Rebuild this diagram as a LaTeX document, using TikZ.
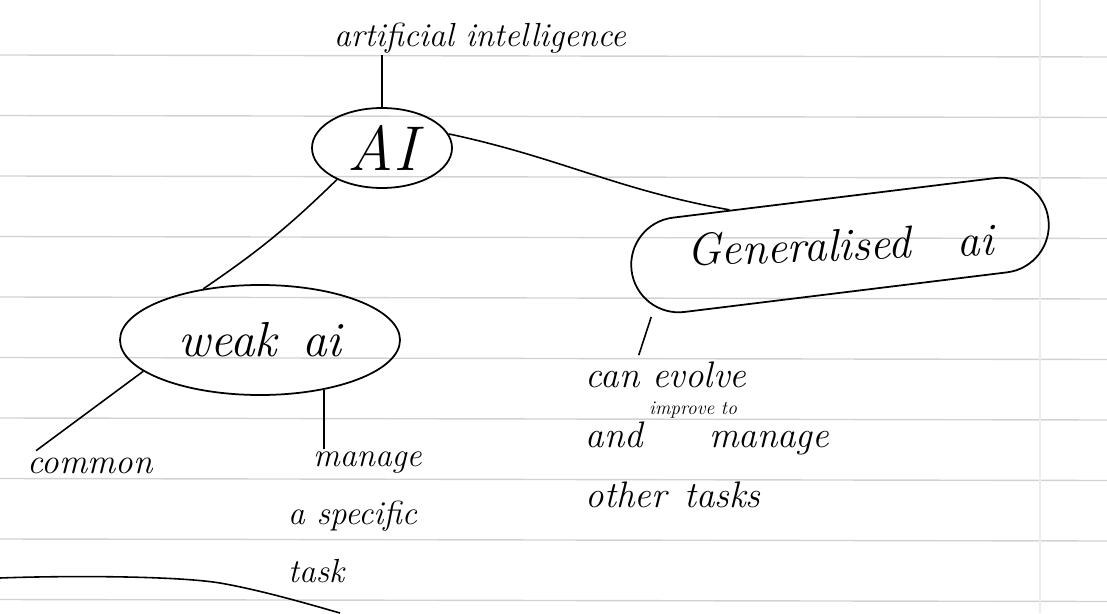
\documentclass[tikz,border=0pt]{standalone}
\usepackage{tikz}
\usetikzlibrary{positioning, arrows.meta, calc, shapes.geometric}

\begin{document}
\begin{tikzpicture}[
        bubble/.style={draw, ellipse, line width=1pt, inner sep=0pt},
        blob/.style={draw, rectangle, rounded corners=0.95cm, line width=1pt, inner sep=0pt},
        note/.style={font=\itshape\fontsize{20}{26}\selectfont, align=left, inner sep=1pt},
        link/.style={line width=0.9pt},
        ruling/.style={gray!35, line width=0.8pt}
    ]
    \useasboundingbox (0,0) rectangle (22.14,12.26);

    % ruled paper
    \foreach \k in {0,...,9} {
        \draw[ruling] (0,11.16-1.21*\k) -- (22.14,11.12-1.21*\k);
    }
    \draw[gray!15, line width=0.8pt] (20.8,12.26) -- (20.8,0);

    % main topic and its meaning
    \node[note, font=\itshape\fontsize{19}{22}\selectfont] (aiterm) at (9.6,11.5) {artificial intelligence};
    \node[bubble, minimum width=2.8cm, minimum height=1.6cm, font=\itshape\fontsize{36}{40}\selectfont] (ai) at (7.64,9.3) {AI};

    % two kinds of ai
    \node[blob, minimum width=8.4cm, minimum height=1.9cm, rotate=7, font=\itshape\fontsize{26}{30}\selectfont] (gen) at (16.8,7.36) {\rotatebox{-5}{Generalised\quad ai}};
    \node[bubble, minimum width=5.6cm, minimum height=2.2cm, font=\itshape\fontsize{28}{32}\selectfont] (weak) at (5.2,5.46) {weak\, ai};

    % notes
    \node[note] (common) at (1.8,2.94) {common};
    \node[note, font=\itshape\fontsize{19}{33}\selectfont] (specific) at (7.1,1.92) {\hspace{0.5cm}manage\\a specific\\task};
    \node[note, font=\itshape\fontsize{21}{34}\selectfont] (evolve) at (14.15,3.56) {can evolve\\and\,\rlap{\raisebox{19pt}{\fontsize{11}{11}\selectfont improve to}}\hspace{1.2cm}manage\\other\hspace{0.35cm}tasks};

    % connectors
    \draw[link] (ai.north) -- (ai.north |- aiterm.south);
    \draw[link] (ai.12) to[out=-12, in=170] ($(gen.north west)!0.25!(gen.north east)$);
    \draw[link] (ai.215) to[bend left=5] (weak.138);
    \draw[link] (weak.195) -- ([xshift=6pt,yshift=3pt]common.north west);
    \draw[link] (weak.-38) -- (weak.-38 |- specific.north);
    \draw[link] ($(gen.south west)!0.035!(gen.south east)$) -- ([xshift=1.1cm,yshift=0.1cm]evolve.north west);

    % edge of the next bubble
    \draw[link] (0,0.7) .. controls (1,0.74) and (3.4,0.76) .. (4.4,0.6) .. controls (5.2,0.46) and (6.1,0.2) .. (6.8,0);
\end{tikzpicture}
\end{document}
